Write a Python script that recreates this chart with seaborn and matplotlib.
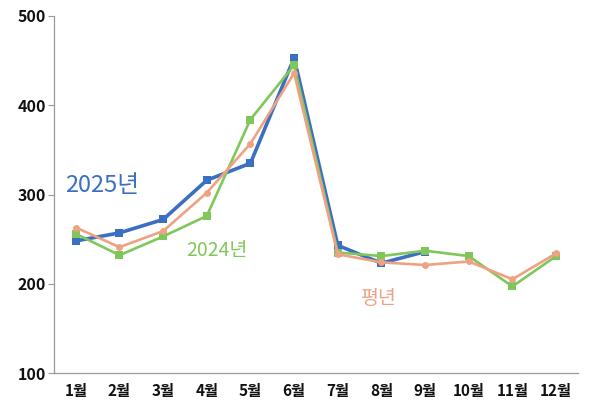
import matplotlib
matplotlib.use("Agg")
import matplotlib.pyplot as plt
import numpy as np
import pandas as pd
import seaborn as sns

months = ['1월', '2월', '3월', '4월', '5월', '6월', '7월', '8월', '9월', '10월', '11월', '12월']
y2025 = [248, 257, 272, 316, 335, 453, 243, 223, 236]
y2024 = [256, 232, 253, 276, 384, 445, 235, 231, 237, 231, 197, 231]
normal = [263, 241, 259, 302, 357, 436, 233, 224, 221, 225, 205, 234]

sns.set_theme(style="white")
plt.rcParams['font.family'] = ['Noto Sans CJK KR', 'DejaVu Sans']

fig = plt.figure(figsize=(5.92, 4.05), dpi=100)
ax = fig.add_axes([0.0912, 0.079, 0.885, 0.8815])

c_blue = "#3B6FC1"
c_green = "#80C75B"
c_orange = "#EFA282"

x_all = np.arange(len(months))
sns.lineplot(x=x_all[:len(y2025)], y=y2025, ax=ax, color=c_blue, linewidth=2.6,
             marker='s', markersize=5.8, markeredgewidth=0, zorder=3)
sns.lineplot(x=x_all, y=y2024, ax=ax, color=c_green, linewidth=1.9,
             marker='s', markersize=5.3, markeredgewidth=0, zorder=4)
sns.lineplot(x=x_all, y=normal, ax=ax, color=c_orange, linewidth=1.9,
             marker='o', markersize=5, markeredgewidth=0, zorder=5)

ax.set_xlim(-0.5, len(months) - 0.5)
ax.set_ylim(100, 500)
ax.set_yticks([100, 200, 300, 400, 500])
ax.set_xticks(x_all)
ax.set_xticklabels(months, fontsize=11, fontweight='bold', color="#111111")
for lab in ax.get_yticklabels():
    lab.set_fontsize(11.5)
    lab.set_fontweight('bold')
    lab.set_color("#111111")

ax.tick_params(axis='y', which='major', length=4, width=0.8, color="#999999",
               left=True, pad=2)
ax.tick_params(axis='x', which='major', length=0, pad=7)

for side in ['top', 'right']:
    ax.spines[side].set_visible(False)
for side in ['left', 'bottom']:
    ax.spines[side].set_linewidth(0.9)
    ax.spines[side].set_edgecolor("#999999")

ax.set_xlabel('')
ax.set_ylabel('')

ax.text(0.6, 310, '2025년', color=c_blue, fontsize=17, fontweight='medium',
        ha='center', va='center')
ax.text(3.23, 237, '2024년', color=c_green, fontsize=14, fontweight='medium',
        ha='center', va='center')
ax.text(6.95, 184, '평년', color=c_orange, fontsize=14, fontweight='medium',
        ha='center', va='center')

fig.savefig("out.png", dpi=100)
